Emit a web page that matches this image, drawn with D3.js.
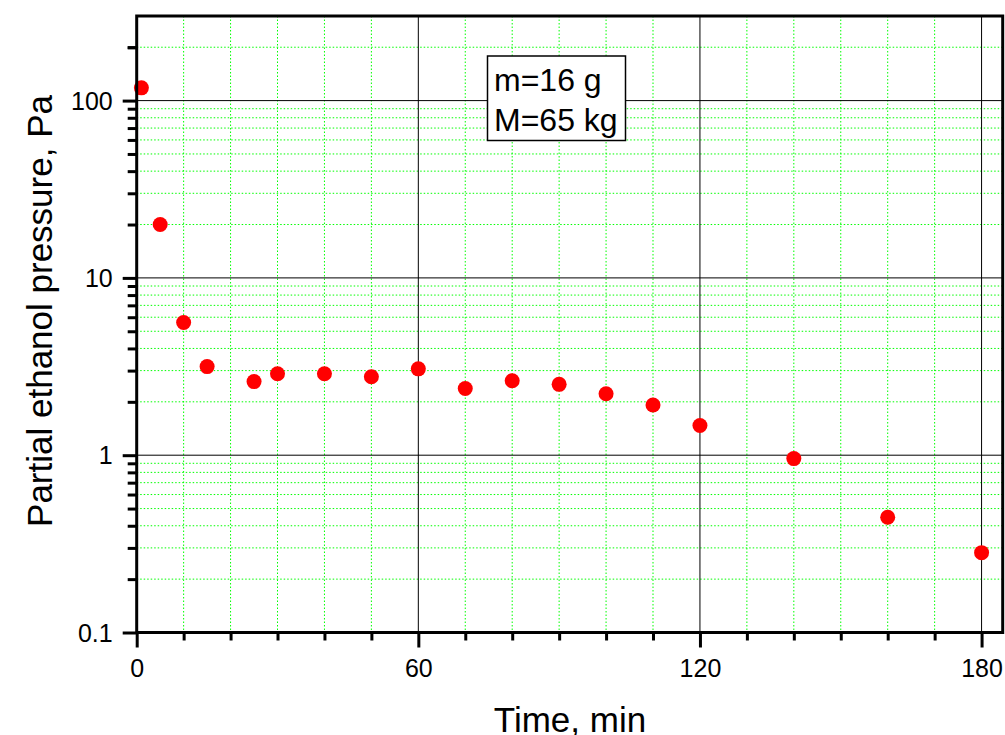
<!DOCTYPE html>
<html>
<head>
<meta charset="utf-8">
<script src="https://cdn.jsdelivr.net/npm/d3@7"></script>
<style>
  html, body { margin: 0; padding: 0; background: #fff; }
  svg { display: block; }
  text { font-family: "Liberation Sans", Arial, sans-serif; fill: #000; }
</style>
</head>
<body>
<svg id="chart" width="1005" height="735"></svg>
<script>
// ---- data ----
const times = [1, 5, 10, 15, 25, 30, 40, 50, 60, 70, 80, 90, 100, 110, 120, 140, 160, 180];
const pressures = [118, 20, 5.6, 3.16, 2.6, 2.88, 2.88, 2.77, 3.07, 2.38, 2.63, 2.51, 2.22, 1.92, 1.47, 0.957, 0.447, 0.282];
const xMajorTicks = [0, 60, 120, 180];
const xMinorTicks = [10, 20, 30, 40, 50, 70, 80, 90, 100, 110, 130, 140, 150, 160, 170];
const yMajorTicks = [0.1, 1, 10, 100];
const yTickLabels = ["0.1", "1", "10", "100"];
const legendLines = ["m=16 g", "M=65 kg"];
const xTitle = "Time, min";
const yTitle = "Partial ethanol pressure, Pa";

// ---- layout ----
const L = 136.7, R = 1002.7, T = 16, B = 632.5;
const svg = d3.select("#chart");

const x = d3.scaleLinear().domain([0, 184.5]).range([L, R]);
const y = d3.scaleLog().domain([0.1, 300]).range([B, T]);

// minor y values (2..9 per decade within domain)
const yMinor = [];
[0.1, 1, 10, 100].forEach(d => {
  for (let k = 2; k <= 9; k++) {
    const v = d * k;
    if (v < 300 - 1e-9) yMinor.push(v);
  }
});

// ---- grid ----
const grid = svg.append("g");
grid.selectAll("line.gx").data(xMinorTicks).join("line")
  .attr("x1", d => x(d)).attr("x2", d => x(d)).attr("y1", T).attr("y2", B)
  .attr("stroke", "#00ff00").attr("stroke-width", 1).attr("stroke-dasharray", "1.5,2");
grid.selectAll("line.gy").data(yMinor).join("line")
  .attr("x1", L).attr("x2", R).attr("y1", d => y(d)).attr("y2", d => y(d))
  .attr("stroke", "#00ff00").attr("stroke-width", 1).attr("stroke-dasharray", "1.5,2");
grid.selectAll("line.mx").data(xMajorTicks.filter(d => d > 0)).join("line")
  .attr("x1", d => x(d)).attr("x2", d => x(d)).attr("y1", T).attr("y2", B)
  .attr("stroke", "#000").attr("stroke-width", 1);
grid.selectAll("line.my").data(yMajorTicks.filter(d => d > 0.1)).join("line")
  .attr("x1", L).attr("x2", R).attr("y1", d => y(d)).attr("y2", d => y(d))
  .attr("stroke", "#000").attr("stroke-width", 1);

// ---- legend box ----
const lg = svg.append("g");
lg.append("rect").attr("x", 487.5).attr("y", 56).attr("width", 138).attr("height", 84.5)
  .attr("fill", "#fff").attr("stroke", "#000").attr("stroke-width", 1.5);
lg.selectAll("text").data(legendLines).join("text")
  .attr("x", 494).attr("y", (d, i) => 91 + i * 39.5)
  .attr("font-size", 32).text(d => d);

// ---- points ----
svg.append("g").selectAll("circle").data(times).join("circle")
  .attr("cx", d => x(d)).attr("cy", (d, i) => y(pressures[i]))
  .attr("r", 7.5).attr("fill", "#ff0000");

// ---- frame ----
svg.append("rect").attr("x", L).attr("y", T).attr("width", R - L).attr("height", B - T)
  .attr("fill", "none").attr("stroke", "#000").attr("stroke-width", 3);

// ---- axes ----
const xAxis = svg.append("g").attr("transform", `translate(0,${B})`)
  .call(d3.axisBottom(x).tickValues(xMajorTicks).tickSize(15).tickFormat(d3.format("d")));
const xAxisMinor = svg.append("g").attr("transform", `translate(0,${B})`)
  .call(d3.axisBottom(x).tickValues(xMinorTicks).tickSize(8).tickFormat(""));
const yAxis = svg.append("g").attr("transform", `translate(${L},0)`)
  .call(d3.axisLeft(y).tickValues(yMajorTicks).tickSize(14).tickFormat((d, i) => yTickLabels[i]));
const yAxisMinor = svg.append("g").attr("transform", `translate(${L},0)`)
  .call(d3.axisLeft(y).tickValues(yMinor.concat([200])).tickSize(9).tickFormat(""));

[xAxis, xAxisMinor, yAxis, yAxisMinor].forEach(g => {
  g.select(".domain").remove();
  g.selectAll(".tick line").attr("stroke", "#000").attr("stroke-width", 3);
});
xAxis.selectAll(".tick text")
  .attr("font-family", '"Liberation Sans", Arial, sans-serif')
  .attr("font-size", 25).attr("fill", "#000").attr("dy", null).attr("y", 44);
yAxis.selectAll(".tick text")
  .attr("font-family", '"Liberation Sans", Arial, sans-serif')
  .attr("font-size", 25).attr("fill", "#000").attr("x", -24).attr("dy", "0.35em");

// ---- titles ----
svg.append("text").attr("x", 570).attr("y", 732).attr("text-anchor", "middle")
  .attr("font-size", 35).text(xTitle);
svg.append("text").attr("transform", "translate(52,311) rotate(-90)")
  .attr("text-anchor", "middle").attr("font-size", 35).text(yTitle);
</script>
</body>
</html>
